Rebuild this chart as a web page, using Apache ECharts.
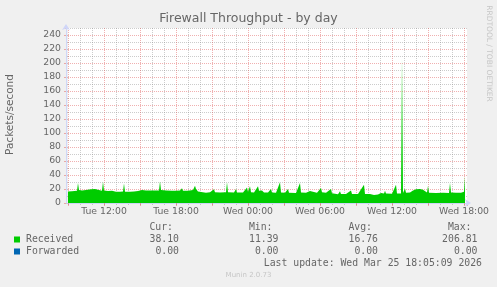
<!DOCTYPE html>
<html><head><meta charset="utf-8">
<script src="https://cdn.jsdelivr.net/npm/echarts@6/dist/echarts.min.js"></script>
<style>html,body{margin:0;padding:0;background:#f0f0f0;}#c{width:497px;height:287px;}</style>
</head><body><div id="c"></div>
<script>
const chartTitle = 'Firewall Throughput - by day';
const yAxisName = 'Packets/second';
const xTickMinutes = [720, 1080, 1440, 1800, 2160, 2520];
const xTickLabels = ['Tue 12:00', 'Tue 18:00', 'Wed 00:00', 'Wed 06:00', 'Wed 12:00', 'Wed 18:00'];
const startMinute = 540;   // Tue 09:00
const stepMinutes = 5;
const sampleIndex = [0,4,9,10,11,14,18,20,23,27,30,32,34,35,36,40,44,48,52,55,56,57,62,66,70,74,76,78,84,91,92,93,98,104,108,112,114,115,120,125,127,128,130,132,138,142,146,147,152,158,159,160,166,168,169,175,179,180,182,183,186,190,191,194,196,200,203,204,208,212,213,217,220,221,228,232,233,238,242,244,249,253,254,258,263,264,266,270,272,273,278,283,284,290,296,297,302,306,310,313,316,317,318,324,328,329,333,334,335,337,338,342,345,348,352,355,357,359,360,361,368,375,381,382,383,388,393,395,396,397];
const received = [16.5,16.8,17.5,28.5,18.5,18,18.5,17.8,19.5,20,19,17.5,17.5,30.5,17.8,17,17.5,16,16.2,16.5,28,16,16,16.3,17,18.5,21,18,17.8,18,31,18.5,18,17.5,17.5,17.8,21,17.5,17.5,18.5,24.7,20,16.5,15,14.5,15.2,19.5,15.5,15,15.2,29.5,15.5,15,20,15,15,22,16,24,15.5,15,24,17.5,18,15,15,20,15,14.5,29.5,15,14.5,20,14.5,14.3,28.6,15,14.5,17,14.5,14.5,21.4,15.5,14.5,20,14,12.5,12.5,16.7,12.8,13,18,13,13,26,13,13,11.4,12,14.3,13.5,17.6,13.5,13.2,26,13.5,13.4,206.81,14.3,20.7,14.5,15,18,19.5,20,19,17,15,24.3,14.5,14.3,14.5,14.3,28.6,15,14.8,14.8,15,16,38.1];
const forwardedIndex = [0, 397];
const forwarded = [0, 0];

const legendNames = ['Received', 'Forwarded'];
const statHeaders = ['Cur:', 'Min:', 'Avg:', 'Max:'];
const statCur = [38.10, 0.00];
const statMin = [11.39, 0.00];
const statAvg = [16.76, 0.00];
const statMax = [206.81, 0.00];
const lastUpdate = 'Last update: Wed Mar 25 18:05:09 2026';
const footerText = 'Munin 2.0.73';
const watermarkText = 'RRDTOOL / TOBI OETIKER';

const FONT = 'DejaVu Sans';
const MONO = 'DejaVu Sans Mono';
const TXT = '#666666';
const MGRID = 'rgba(222,79,79,0.45)';
const GRID = 'rgba(143,143,143,0.45)';
const AXIS = '#CFD6F8';
const colors = ['#00cc00', '#0066b3'];

const xMin = 540, xMax = 2535;
const labelMap = {};
xTickMinutes.forEach((m, i) => labelMap[m] = xTickLabels[i]);

const recData = sampleIndex.map((k, j) => [startMinute + k * stepMinutes, received[j]]);
const fwdData = forwardedIndex.map((k, j) => [startMinute + k * stepMinutes, forwarded[j]]);

const graphics = [];
graphics.push({type:'text', x:248.5, y:19, style:{text:chartTitle, font:'12.5px "'+FONT+'"', fill:TXT, align:'center', verticalAlign:'middle'}});
graphics.push({type:'text', x:10, y:114.5, rotation:Math.PI/2, style:{text:yAxisName, font:'10.5px "'+FONT+'"', fill:TXT, align:'center', verticalAlign:'middle'}});
graphics.push({type:'text', x:488.5, y:53.5, rotation:-Math.PI/2, style:{text:watermarkText, font:'7.5px "'+FONT+'"', fill:'#c6c6c6', align:'center', verticalAlign:'middle'}});
graphics.push({type:'text', x:248.5, y:275.5, style:{text:footerText, font:'7px "'+FONT+'"', fill:'#c6c6c6', align:'center', verticalAlign:'middle'}});
const colRight = [179, 278.5, 378, 477.5];
statHeaders.forEach((h, c) => {
  graphics.push({type:'text', x:colRight[c] - 6, y:227, style:{text:h, font:'9.8px "'+MONO+'"', fill:TXT, align:'right', verticalAlign:'middle'}});
});
const stats = [statCur, statMin, statAvg, statMax];
legendNames.forEach((n, r) => {
  const y = 239 + r * 12;
  graphics.push({type:'rect', shape:{x:14, y:y - 2.5, width:6, height:6}, style:{fill:colors[r]}});
  graphics.push({type:'text', x:26, y:y, style:{text:n, font:'9.8px "'+MONO+'"', fill:TXT, align:'left', verticalAlign:'middle'}});
  stats.forEach((arr, c) => {
    graphics.push({type:'text', x:colRight[c], y:y, style:{text:arr[r].toFixed(2), font:'9.8px "'+MONO+'"', fill:TXT, align:'right', verticalAlign:'middle'}});
  });
});
graphics.push({type:'text', x:482, y:263, style:{text:lastUpdate, font:'9.8px "'+MONO+'"', fill:TXT, align:'right', verticalAlign:'middle'}});

const chart = echarts.init(document.getElementById('c'), null, {renderer:'canvas'});
chart.setOption({
  backgroundColor:'#f0f0f0',
  animation:false,
  grid:{left:68, top:28, width:399, height:175, containLabel:false, backgroundColor:'#ffffff', show:true, borderWidth:0},
  xAxis:[{
    type:'value', min:xMin, max:xMax, interval:60, position:'bottom',
    axisLine:{show:false}, axisTick:{show:true, length:2, lineStyle:{color:GRID}},
    axisLabel:{show:true, margin:4, fontFamily:FONT, fontSize:9.3, color:TXT, formatter:v => labelMap[v] || ''},
    splitLine:{show:true, showMaxLine:false, lineStyle:{color:[MGRID, GRID, GRID], type:[1,1], width:1}}
  },{
    type:'value', min:xMin, max:xMax, interval:180, position:'bottom', z:5,
    axisLine:{show:true, symbol:['none','arrow'], symbolSize:[6,6], symbolOffset:[0,4], lineStyle:{color:AXIS, width:1}},
    axisTick:{show:true, length:3, lineStyle:{color:MGRID}},
    axisLabel:{show:false}, splitLine:{show:false}
  }],
  yAxis:[{
    type:'value', min:0, max:250, interval:10, position:'left',
    axisLine:{show:false}, axisTick:{show:true, length:2, lineStyle:{color:GRID}},
    axisLabel:{show:true, margin:7, fontFamily:FONT, fontSize:9.3, color:TXT, formatter:v => (v % 20 === 0 ? String(v) : '')},
    splitLine:{show:true, lineStyle:{color:[MGRID, GRID], type:[1,1], width:1}}
  },{
    type:'value', min:0, max:250, interval:20, position:'left', offset:2, z:5,
    axisLine:{show:true, symbol:['none','arrow'], symbolSize:[6,6], symbolOffset:[0,4], lineStyle:{color:AXIS, width:1}},
    axisTick:{show:true, length:2, lineStyle:{color:MGRID}},
    axisLabel:{show:false}, splitLine:{show:false}
  }],
  series:[{
    name:legendNames[0], type:'line', xAxisIndex:0, yAxisIndex:0, data:recData,
    symbol:'none', silent:true, lineStyle:{opacity:0, width:0},
    areaStyle:{color:colors[0], opacity:1}, z:2
  },{
    name:legendNames[1], type:'line', xAxisIndex:0, yAxisIndex:0, data:fwdData,
    symbol:'none', silent:true, lineStyle:{opacity:0, width:0},
    areaStyle:{color:colors[1], opacity:1}, z:2
  }],
  graphic:graphics
});
</script></body></html>
